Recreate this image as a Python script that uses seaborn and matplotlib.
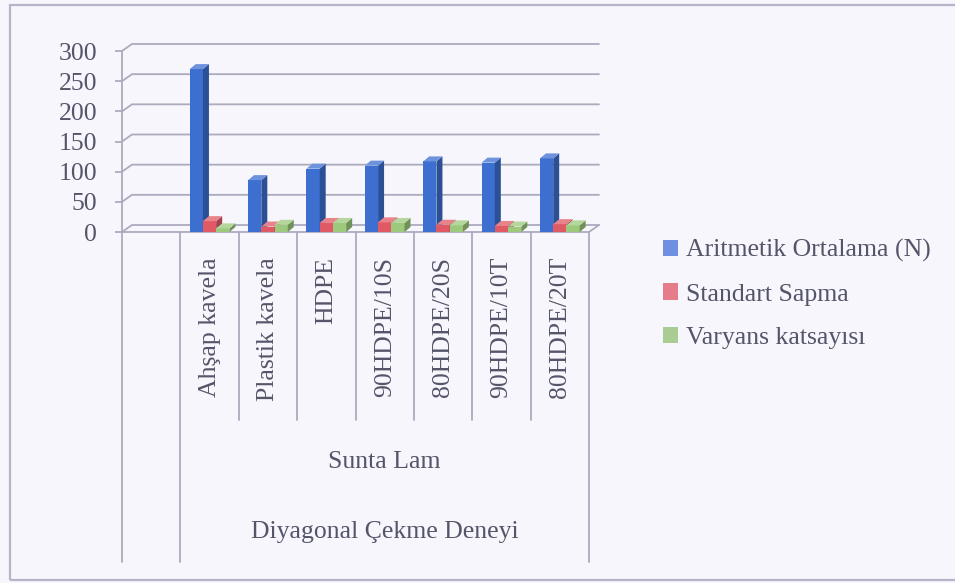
import numpy as np
import pandas as pd
import seaborn as sns
import matplotlib.pyplot as plt
import matplotlib.colors as mcolors
from matplotlib.patches import Polygon, Rectangle, Patch
from matplotlib import transforms

# Veriler (grafikten okunan yaklaşık değerler)
kategoriler = ["Ahşap kavela", "Plastik kavela", "HDPE", "90HDPE/10S",
               "80HDPE/20S", "90HDPE/10T", "80HDPE/20T"]
seriler = ["Aritmetik Ortalama (N)", "Standart Sapma", "Varyans katsayısı"]
ortalama = [270, 86, 105, 110, 117, 115, 122]
standart_sapma = [18, 9, 15, 16, 12, 10, 13]
varyans = [6, 12, 15, 15, 11, 9, 11]
y_ticks = [0, 50, 100, 150, 200, 250, 300]
grup_etiketi = "Sunta Lam"
deney_etiketi = "Diyagonal Çekme Deneyi"

renkler = ["#3D6FD1", "#E05A66", "#9CC97C"]
legend_renkler = ["#6F8FE0", "#E57C8A", "#A9CC92"]
arka_plan = "#F7F6FC"
cizgi = "#ABABBE"
yazi = "#55556A"
fs = 18.5

df = pd.DataFrame({
    "Kategori": kategoriler * 3,
    "Seri": np.repeat(seriler, len(kategoriler)),
    "Değer": ortalama + standart_sapma + varyans,
})

sns.set_style("white")
plt.rcParams["font.family"] = "serif"
plt.rcParams["font.serif"] = ["Liberation Serif", "DejaVu Serif"]

fig = plt.figure(figsize=(9.55, 5.83), dpi=100, facecolor=arka_plan)
ax = fig.add_axes([122 / 955, (583 - 232) / 583, 467 / 955, 181 / 583])
ax.set_facecolor("none")

sns.barplot(data=df, x="Kategori", y="Değer", hue="Seri",
            order=[""] + kategoriler, hue_order=seriler, palette=renkler,
            saturation=1, width=0.68, errorbar=None, legend=False, ax=ax)
cubuklar = list(ax.patches)

ax.set_xlim(-0.5, len(kategoriler) + 0.5)
ax.set_ylim(y_ticks[0], y_ticks[-1])

# 3B derinlik için piksel -> veri dönüşümü
px_x = ax.transData.transform((1, 0))[0] - ax.transData.transform((0, 0))[0]
px_y = ax.transData.transform((0, 1))[1] - ax.transData.transform((0, 0))[1]

# Çubuklara yan ve üst yüz ekle
bdx, bdy = 6 / px_x, 5 / px_y
for i, p in enumerate(cubuklar):
    h = p.get_height()
    if not np.isfinite(h) or h <= 0:
        continue
    x, w = p.get_x(), p.get_width()
    rgb = np.array(mcolors.to_rgb(p.get_facecolor()))
    z = 3 + i * 0.01
    p.set_zorder(z)
    p.set_edgecolor("none")
    yan = Polygon([(x + w, 0), (x + w + bdx, bdy), (x + w + bdx, h + bdy), (x + w, h)],
                  closed=True, facecolor=rgb * 0.72, edgecolor="none", zorder=z)
    ust = Polygon([(x, h), (x + bdx, h + bdy), (x + w + bdx, h + bdy), (x + w, h)],
                  closed=True, facecolor=rgb + (1 - rgb) * 0.25, edgecolor="none", zorder=z)
    ax.add_patch(yan)
    ax.add_patch(ust)

# Arka duvar ızgara çizgileri
gdx, gdy = 10 / px_x, 7 / px_y
x0, x1 = ax.get_xlim()
for v in y_ticks:
    ax.plot([x0, x0 + gdx, x1 + gdx], [v, v + gdy, v + gdy], color=cizgi,
            lw=1.3, zorder=1, clip_on=False)
# Zemin ön kenarı
ax.plot([x0, x1, x1 + gdx], [0, 0, gdy], color=cizgi, lw=1.3, zorder=1, clip_on=False)

for s in ["top", "right", "bottom"]:
    ax.spines[s].set_visible(False)
ax.spines["left"].set_color(cizgi)
ax.spines["left"].set_linewidth(1.3)

ax.set_yticks(y_ticks)
ax.tick_params(axis="y", length=5, width=1.3, color=cizgi, pad=13,
               labelsize=fs, labelcolor=yazi, left=True)
ax.set_xticks(range(len(kategoriler) + 1))
ax.set_xticklabels([""] + kategoriler, rotation=90)
ax.tick_params(axis="x", length=0, pad=18, labelsize=fs, labelcolor=yazi)
ax.set_xlabel("")
ax.set_ylabel("")

# Çok düzeyli kategori ekseni
trans = transforms.blended_transform_factory(ax.transData, ax.transAxes)
sinirlar = np.arange(x0, x1 + 0.01, 1)
for j, sx in enumerate(sinirlar):
    uzun = j in (0, 1, len(sinirlar) - 1)
    ax.plot([sx, sx], [0, -1.823 if uzun else -1.039], transform=trans,
            color=cizgi, lw=1.3, clip_on=False)
merkez = np.mean(range(1, len(kategoriler) + 1))
ax.text(merkez, -1.271, grup_etiketi, transform=trans, ha="center", va="center",
        fontsize=fs, color=yazi)
ax.text(merkez, -1.657, deney_etiketi, transform=trans, ha="center", va="center",
        fontsize=fs, color=yazi)

# Lejant
handles = [Patch(facecolor=c, edgecolor="none") for c in legend_renkler]
fig.legend(handles, seriler, loc="center left", bbox_to_anchor=(663 / 955, (583 - 294) / 583),
           frameon=False, fontsize=fs, labelcolor=yazi, handlelength=0.6, handleheight=0.6,
           handletextpad=0.3, labelspacing=0.82, borderpad=0, borderaxespad=0)

# Dış çerçeve
fig.add_artist(Rectangle((10 / 955, 3 / 583), 1.5, 575 / 583, transform=fig.transFigure,
                         fill=False, edgecolor="#B5B5C8", lw=1.6))

fig.savefig("out.png", dpi=100, facecolor=fig.get_facecolor())
